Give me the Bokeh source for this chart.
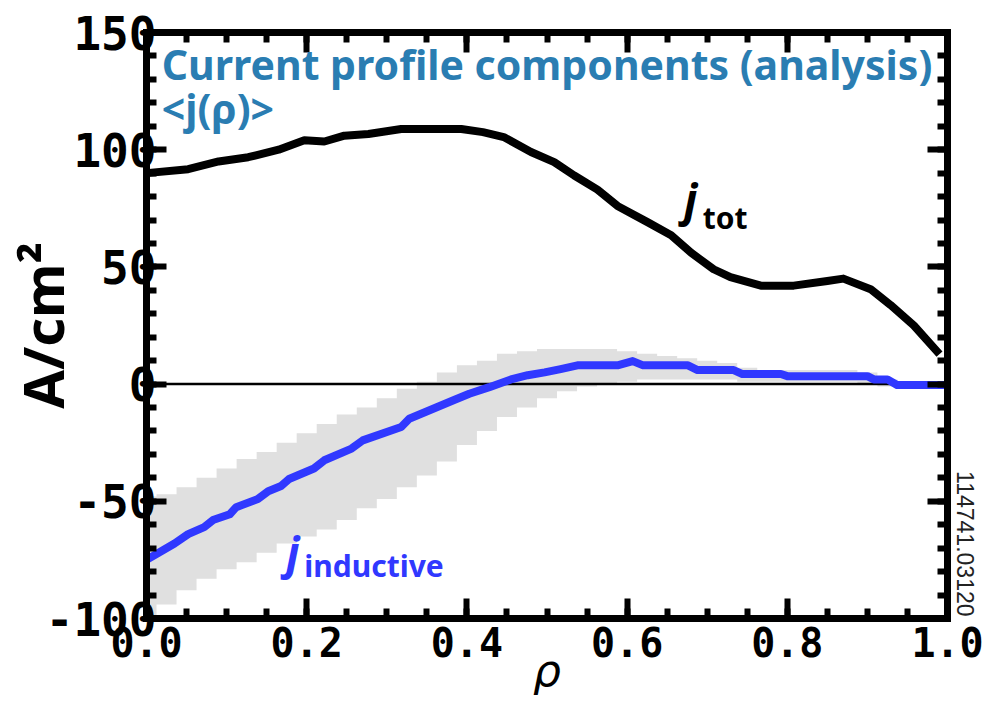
import math
from bokeh.plotting import figure
from bokeh.models import (Range1d, LinearAxis, SingleIntervalTicker, Label, Title,
                          NumeralTickFormatter, CustomJSTickFormatter)
from bokeh.embed import file_html
from bokeh.resources import INLINE

# ---- data ----
rho_tot = [0.0, 0.052, 0.09, 0.127, 0.165, 0.181, 0.197, 0.222, 0.247, 0.277,
           0.318, 0.355, 0.393, 0.42, 0.446, 0.48, 0.509, 0.534, 0.563, 0.588,
           0.626, 0.655, 0.68, 0.708, 0.729, 0.767, 0.808, 0.85, 0.87, 0.904,
           0.929, 0.958, 0.99]
j_tot = [90, 91.7, 95, 96.8, 100, 102, 104, 103.5, 106, 106.7,
         108.8, 108.8, 108.8, 107.5, 105.4, 99, 94.7, 89, 83, 76,
         69, 63.5, 56, 49, 45.6, 42, 42, 44, 45, 40.5,
         33.7, 25, 12.8]

rho_ind = [0.0, 0.035, 0.052, 0.072, 0.083, 0.104, 0.112, 0.139, 0.152, 0.168,
           0.178, 0.209, 0.222, 0.256, 0.27, 0.318, 0.328, 0.384, 0.403, 0.428,
           0.455, 0.476, 0.497, 0.517, 0.538, 0.588, 0.607, 0.62, 0.676, 0.688,
           0.733, 0.744, 0.792, 0.8, 0.9, 0.908, 0.925, 0.937, 1.0]
j_ind = [-75, -68, -64, -61, -58, -55.5, -52.5, -49, -45.7, -43.5,
         -40.5, -36, -32.5, -27.5, -24, -18.3, -14.8, -6.8, -4.1, -1.3,
         2, 3.8, 5, 6.4, 8, 8, 9.8, 8, 8, 6,
         6, 4.3, 4.3, 3.4, 3.4, 2, 2, -0.4, -0.4]

rho_band = [0.0, 0.025, 0.05, 0.075, 0.1, 0.125, 0.15, 0.175, 0.2, 0.225,
            0.25, 0.275, 0.3, 0.325, 0.35, 0.375, 0.4, 0.425, 0.45, 0.475,
            0.5, 0.525, 0.55, 0.575, 0.6, 0.625, 0.65, 0.675, 0.7, 0.725,
            0.75, 0.775, 0.8, 0.825, 0.85, 0.875, 0.9, 0.925, 0.95, 0.975, 1.0]
band_hi = [-48, -47, -44, -40, -36, -32, -29, -25, -21, -17,
           -13, -10, -6, -2, 1, 5, 8, 10, 13, 14,
           15, 15, 15, 15, 14, 13, 12, 11, 10, 9,
           7, 6, 6, 6, 6, 6, 5, 2, 1, 1, 1]
band_lo = [-99, -94, -88, -83, -79, -76, -72, -68, -65, -62,
           -58, -53, -49, -44, -39, -33, -26, -20, -14, -10,
           -6, -3, -1, 0, 1, 2, 2, 2, 2, 2,
           1, 1, 1, 1, 1, 1, 0, -1, -1, -1, -1]

zero_x = [0.0, 1.0]
zero_y = [0, 0]

TITLE_COLOR = "#2a7db2"
BLUE = "#3038ff"
TICK_FONT = "DejaVu Sans Mono"
TEXT_FONT = "Noto Sans"

p = figure(width=996, height=709, x_range=Range1d(0, 1), y_range=Range1d(-100, 150),
           output_backend="svg", toolbar_location=None,
           min_border_left=145, min_border_right=49, min_border_top=32, min_border_bottom=91)
p.background_fill_color = "white"
p.border_fill_color = "white"
p.outline_line_color = None
p.xgrid.visible = False
p.ygrid.visible = False

# band
if hasattr(p, "varea_step"):
    p.varea_step(x=rho_band, y1=band_lo, y2=band_hi, step_mode="center", fill_color="#e0e0e0")
else:
    p.varea(x=rho_band, y1=band_lo, y2=band_hi, fill_color="#e0e0e0")
p.line(zero_x, zero_y, line_color="black", line_width=2.5)
p.line(rho_ind, j_ind, line_color=BLUE, line_width=8, line_join="round")
p.line(rho_tot, j_tot, line_color="black", line_width=8, line_join="round")

def style_axis(ax):
    ax.axis_line_width = 7
    ax.axis_line_color = "black"
    ax.axis_line_cap = "square"
    ax.major_tick_in = 20
    ax.major_tick_out = 0
    ax.minor_tick_in = 10
    ax.minor_tick_out = 0
    ax.major_tick_line_width = 6
    ax.minor_tick_line_width = 6
    ax.major_tick_line_color = "black"
    ax.minor_tick_line_color = "black"

xt = SingleIntervalTicker(interval=0.2, num_minor_ticks=4)
yt = SingleIntervalTicker(interval=50, num_minor_ticks=5)

xa = p.xaxis[0]
xa.ticker = xt
xa.formatter = NumeralTickFormatter(format="0.0")
style_axis(xa)
xa.major_label_text_font = TICK_FONT
xa.major_label_text_font_style = "bold"
xa.major_label_text_font_size = "40px"
xa.major_label_text_color = "black"
xa.major_label_standoff = 8
xa.axis_label = "ρ"
xa.axis_label_text_font = "DejaVu Sans"
xa.axis_label_text_font_style = "italic"
xa.axis_label_text_font_size = "44px"
xa.axis_label_text_color = "black"
xa.axis_label_standoff = -15

ya = p.yaxis[0]
ya.ticker = yt
ya.formatter = NumeralTickFormatter(format="0")
style_axis(ya)
ya.major_label_text_font = TICK_FONT
ya.major_label_text_font_style = "bold"
ya.major_label_text_font_size = "46px"
ya.major_label_text_color = "black"
ya.major_label_standoff = -10
ya.axis_label = "A/cm²"
ya.axis_label_text_font = TEXT_FONT
ya.axis_label_text_font_style = "bold"
ya.axis_label_text_font_size = "56px"
ya.axis_label_text_color = "black"
ya.axis_label_standoff = -37

blank = CustomJSTickFormatter(code="return ''")
top = LinearAxis(ticker=SingleIntervalTicker(interval=0.2, num_minor_ticks=4), formatter=blank)
style_axis(top)
top.major_label_standoff = 0
p.add_layout(top, "above")
right = LinearAxis(ticker=SingleIntervalTicker(interval=50, num_minor_ticks=5), formatter=blank)
style_axis(right)
right.major_label_standoff = 0
p.add_layout(right, "right")

# shot id on the right side
shot = Title(text="114741.03120", align="right", text_font="Liberation Sans",
             text_font_size="23px", text_font_style="normal", text_color="#222222",
             offset=2, standoff=18)
p.add_layout(shot, "right")

# annotations
p.add_layout(Label(x=0.019, y=136.5, text="Current profile components (analysis)",
                   text_font=TEXT_FONT, text_font_style="bold", text_font_size="41px",
                   text_color=TITLE_COLOR, text_baseline="alphabetic"))
p.add_layout(Label(x=0.019, y=118.0, text="<j(ρ)>",
                   text_font=TEXT_FONT, text_font_style="bold", text_font_size="41px",
                   text_color=TITLE_COLOR, text_baseline="alphabetic"))

p.add_layout(Label(x=0.671, y=79.0, text="j", text_font=TEXT_FONT,
                   text_font_style="bold italic", text_font_size="44px",
                   text_color="black", text_baseline="alphabetic"))
p.add_layout(Label(x=0.6945, y=71.2, text="tot", text_font=TEXT_FONT,
                   text_font_style="bold", text_font_size="30px",
                   text_color="black", text_baseline="alphabetic"))

p.add_layout(Label(x=0.1746, y=-71.5, text="j", text_font=TEXT_FONT,
                   text_font_style="bold italic", text_font_size="44px",
                   text_color=BLUE, text_baseline="alphabetic"))
p.add_layout(Label(x=0.197, y=-77.5, text="inductive", text_font=TEXT_FONT,
                   text_font_style="bold", text_font_size="30px",
                   text_color=BLUE, text_baseline="alphabetic"))

open("out.html", "w").write(file_html(p, INLINE))
